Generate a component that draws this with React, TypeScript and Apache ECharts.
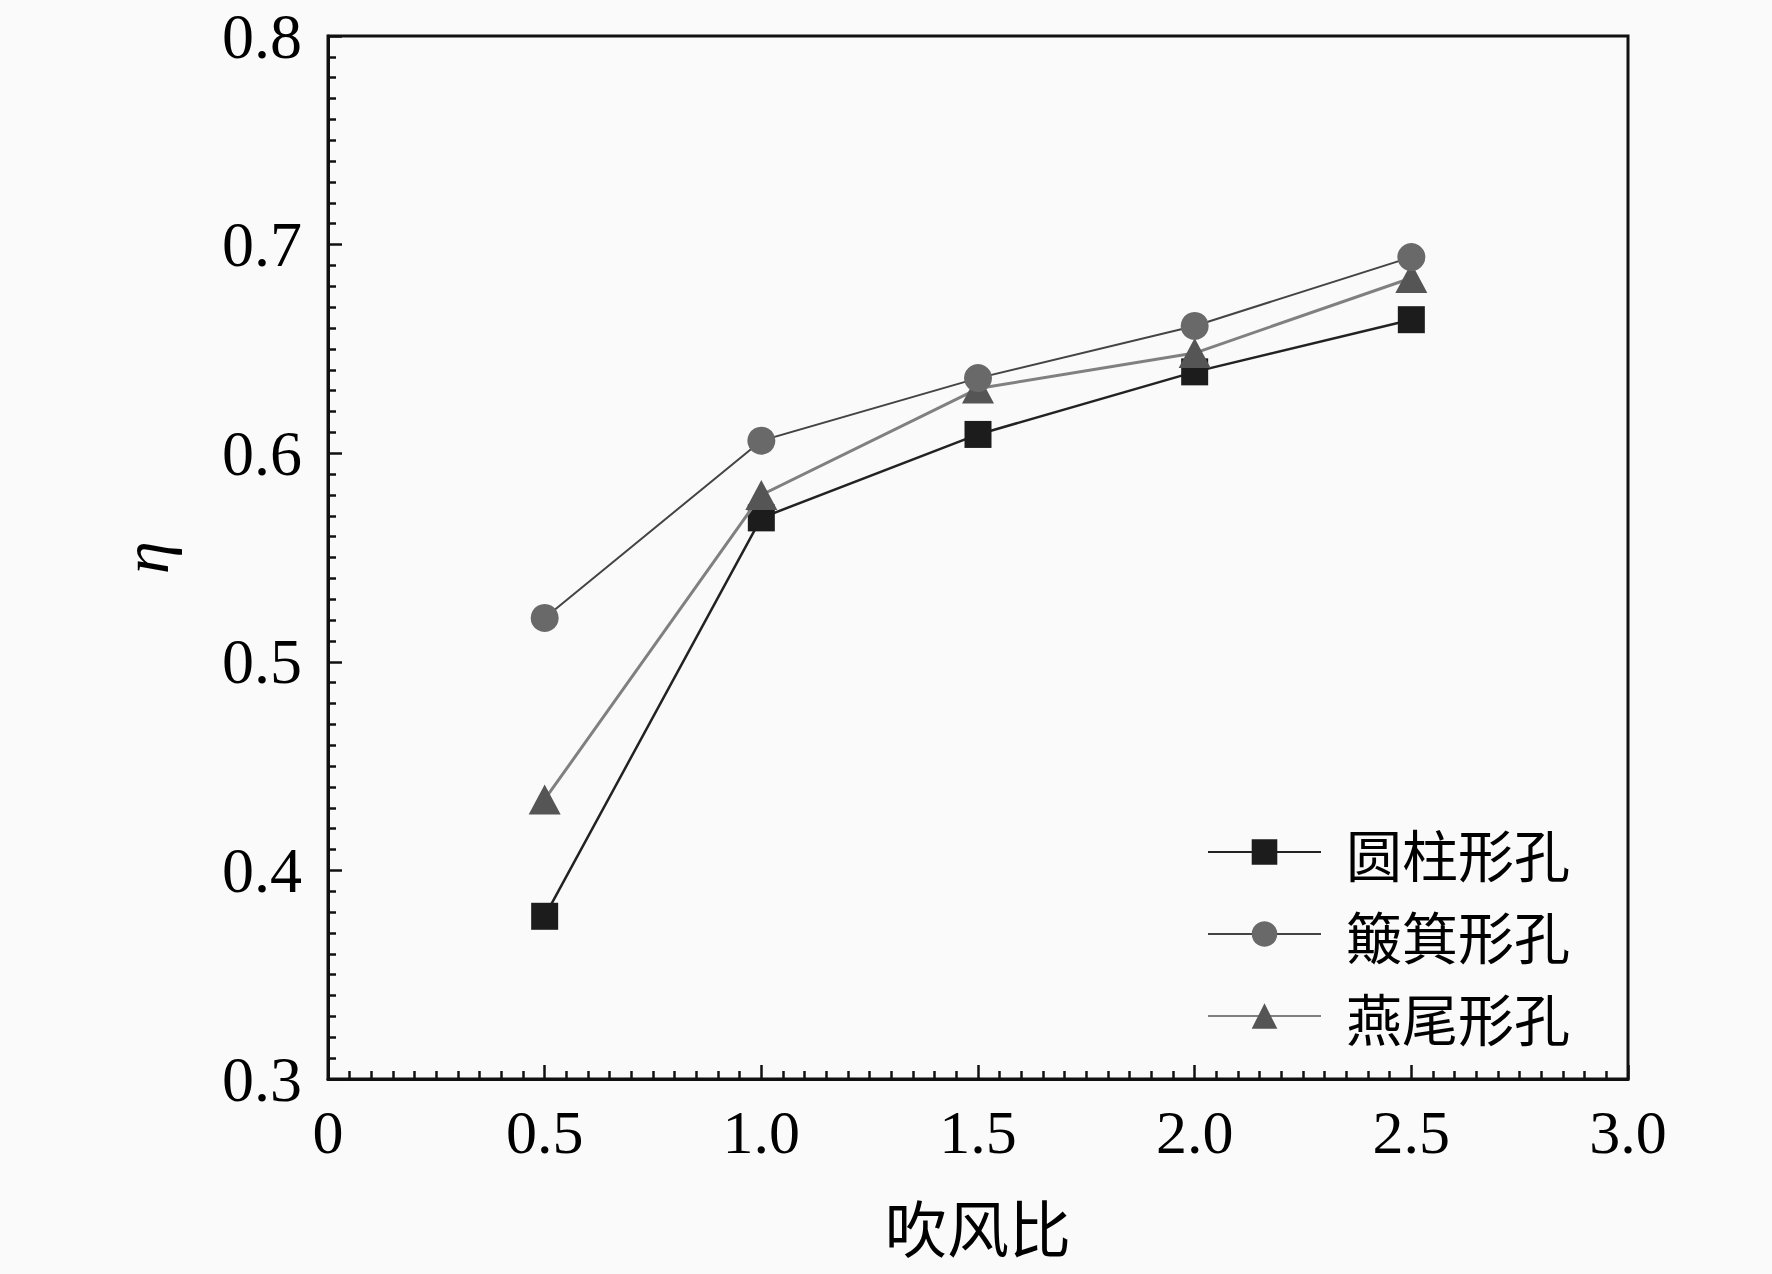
import React, { useEffect, useRef } from "react";
import * as echarts from "echarts";

const blowingRatio = [0.5, 1.0, 1.5, 2.0, 2.5];
const cylindrical = [0.378, 0.569, 0.609, 0.639, 0.664];
const dustpan = [0.521, 0.606, 0.636, 0.661, 0.694];
const swallowtail = [0.434, 0.58, 0.631, 0.648, 0.684];
const seriesNames = ["圆柱形孔", "簸箕形孔", "燕尾形孔"];
const xTicks = { min: 0, max: 3, interval: 0.5 };
const yTicks = { min: 0.3, max: 0.8, interval: 0.1 };

const pairs = (ys: number[]) => blowingRatio.map((x, i) => [x, ys[i]]);

export default function App() {
  const ref = useRef<HTMLDivElement>(null);
  useEffect(() => {
    document.body.style.margin = "0";
    const chart = echarts.init(ref.current!, null, { renderer: "svg" });
    const serif = "'Liberation Serif', 'Times New Roman', serif";
    const cjk = "'Noto Sans CJK SC', sans-serif";
    chart.setOption({
      animation: false,
      backgroundColor: "#fafafa",
      grid: {
        left: 328,
        top: 36,
        right: 144,
        bottom: 195,
        show: true,
        borderColor: "#111",
        borderWidth: 3,
        backgroundColor: "transparent",
      },
      legend: {
        data: seriesNames,
        orient: "vertical",
        left: 1207,
        top: 824,
        padding: 0,
        itemWidth: 113,
        itemHeight: 32,
        itemGap: 26,
        textStyle: { fontFamily: cjk, fontSize: 56, color: "#000", padding: [0, 0, 0, 20] },
      },
      xAxis: {
        type: "value",
        min: xTicks.min,
        max: xTicks.max,
        interval: xTicks.interval,
        axisLine: { show: true, lineStyle: { color: "#111", width: 3 } },
        axisTick: { show: true, inside: true, length: 14, lineStyle: { color: "#111", width: 2.5 } },
        minorTick: { show: true, splitNumber: 10, length: 8, lineStyle: { color: "#111", width: 2.5 } },
        splitLine: { show: false },
        axisLabel: {
          fontFamily: serif,
          fontSize: 62,
          color: "#000",
          margin: 22,
          formatter: (v: number) => (v === 0 ? "0" : v.toFixed(1)),
        },
        name: "吹风比",
        nameLocation: "middle",
        nameGap: 116,
        nameTextStyle: { fontFamily: cjk, fontSize: 62, color: "#000" },
      },
      yAxis: {
        type: "value",
        min: yTicks.min,
        max: yTicks.max,
        interval: yTicks.interval,
        axisLine: { show: true, lineStyle: { color: "#111", width: 3 } },
        axisTick: { show: true, inside: true, length: 14, lineStyle: { color: "#111", width: 2.5 } },
        minorTick: { show: true, splitNumber: 10, length: 8, lineStyle: { color: "#111", width: 2.5 } },
        splitLine: { show: false },
        axisLabel: {
          fontFamily: serif,
          fontSize: 64,
          color: "#000",
          margin: 26,
          formatter: (v: number) => v.toFixed(1),
        },
        name: "η",
        nameLocation: "middle",
        nameGap: 150,
        nameTextStyle: { fontFamily: serif, fontStyle: "italic", fontSize: 66, color: "#000" },
      },
      series: [
        {
          name: seriesNames[0],
          type: "line",
          data: pairs(cylindrical),
          symbol: "rect",
          symbolSize: 27,
          z: 2,
          lineStyle: { color: "#222", width: 2.5 },
          itemStyle: { color: "#1c1c1c" },
        },
        {
          name: seriesNames[1],
          type: "line",
          data: pairs(dustpan),
          symbol: "circle",
          symbolSize: 28,
          z: 4,
          lineStyle: { color: "#444", width: 2 },
          itemStyle: { color: "#696969" },
        },
        {
          name: seriesNames[2],
          type: "line",
          data: pairs(swallowtail),
          symbol: "triangle",
          symbolSize: [32, 30],
          z: 3,
          lineStyle: { color: "#808080", width: 3 },
          itemStyle: { color: "#555" },
        },
      ],
    });
    return () => chart.dispose();
  }, []);
  return (
    <div
      ref={ref}
      style={{ position: "absolute", left: 0, top: 0, width: 1772, height: 1274 }}
    />
  );
}
